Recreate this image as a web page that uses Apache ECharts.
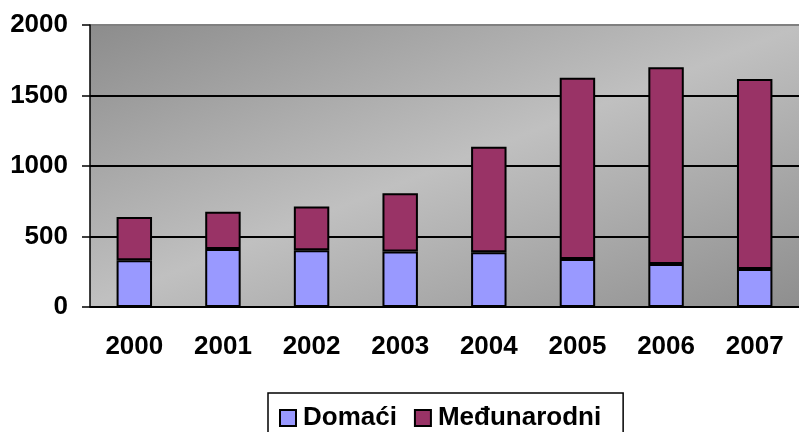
<!DOCTYPE html>
<html>
<head>
<meta charset="utf-8">
<title>Domaći / Međunarodni</title>
<script src="https://cdn.jsdelivr.net/npm/echarts@6/dist/echarts.min.js"></script>
<style>
  html, body { margin: 0; padding: 0; background: #fff; }
  #chart { width: 799px; height: 432px; }
</style>
</head>
<body>
<div id="chart"></div>
<script>
// godine
const years = ['2000', '2001', '2002', '2003', '2004', '2005', '2006', '2007'];
// vrijednosti po seriji
const domaci = [332, 412, 403, 393, 388, 341, 305, 270];
const medjunarodni = [307, 263, 310, 414, 748, 1285, 1395, 1347];
const yTicks = [0, 500, 1000, 1500, 2000];

const fontFamily = '"Liberation Sans", Arial, sans-serif';

const myChart = echarts.init(document.getElementById('chart'));

const option = {
  animation: false,
  grid: {
    left: 90,
    top: 25,
    right: -3,
    bottom: 125,
    show: true,
    borderWidth: 0,
    // svijetla traka ide dijagonalom gore desno -> dolje lijevo
    backgroundColor: {
      type: 'linear',
      x: 0.365,
      y: -0.364,
      x2: 0.635,
      y2: 1.364,
      colorStops: [
        { offset: 0, color: '#8c8c8c' },
        { offset: 0.5, color: '#c0c0c0' },
        { offset: 1, color: '#8e8e8e' },
      ],
    },
  },
  legend: {
    left: 268,
    top: 393,
    padding: [12, 22, 12, 11],
    itemWidth: 16,
    itemHeight: 16,
    itemGap: 17,
    borderColor: '#000',
    borderWidth: 1.5,
    selectedMode: false,
    textStyle: {
      color: '#000',
      fontSize: 26,
      fontWeight: 'bold',
      fontFamily: fontFamily,
      padding: [0, 0, 0, 2],
    },
    data: [
      { name: 'Domaći', icon: 'rect' },
      { name: 'Međunarodni', icon: 'rect' },
    ],
  },
  xAxis: {
    type: 'category',
    data: years,
    axisLine: { lineStyle: { color: '#000', width: 1.5 } },
    axisTick: { length: 10, lineStyle: { color: '#000', width: 1.5 } },
    axisLabel: {
      margin: 27,
      color: '#000',
      fontSize: 26,
      fontWeight: 'bold',
      fontFamily: fontFamily,
    },
  },
  yAxis: {
    type: 'value',
    min: yTicks[0],
    max: yTicks[yTicks.length - 1],
    interval: 500,
    axisLine: { show: true, lineStyle: { color: '#000', width: 1.5 } },
    axisTick: { show: true, length: 8, lineStyle: { color: '#000', width: 1.5 } },
    splitLine: {
      lineStyle: { color: ['#000', '#000', '#000', '#000', '#808080'], width: 2 },
    },
    axisLabel: {
      margin: 22,
      color: '#000',
      fontSize: 26,
      fontWeight: 'bold',
      fontFamily: fontFamily,
      formatter: function(value) {
        return String(value);
      },
    },
  },
  series: [
    {
      name: 'Domaći',
      type: 'bar',
      stack: 'ukupno',
      barWidth: '40%',
      data: domaci,
      itemStyle: { color: '#9999ff', borderColor: '#000', borderWidth: 2 },
    },
    {
      name: 'Međunarodni',
      type: 'bar',
      stack: 'ukupno',
      barWidth: '40%',
      data: medjunarodni,
      itemStyle: { color: '#993366', borderColor: '#000', borderWidth: 2 },
    },
  ],
};
myChart.setOption(option);
</script>
</body>
</html>
